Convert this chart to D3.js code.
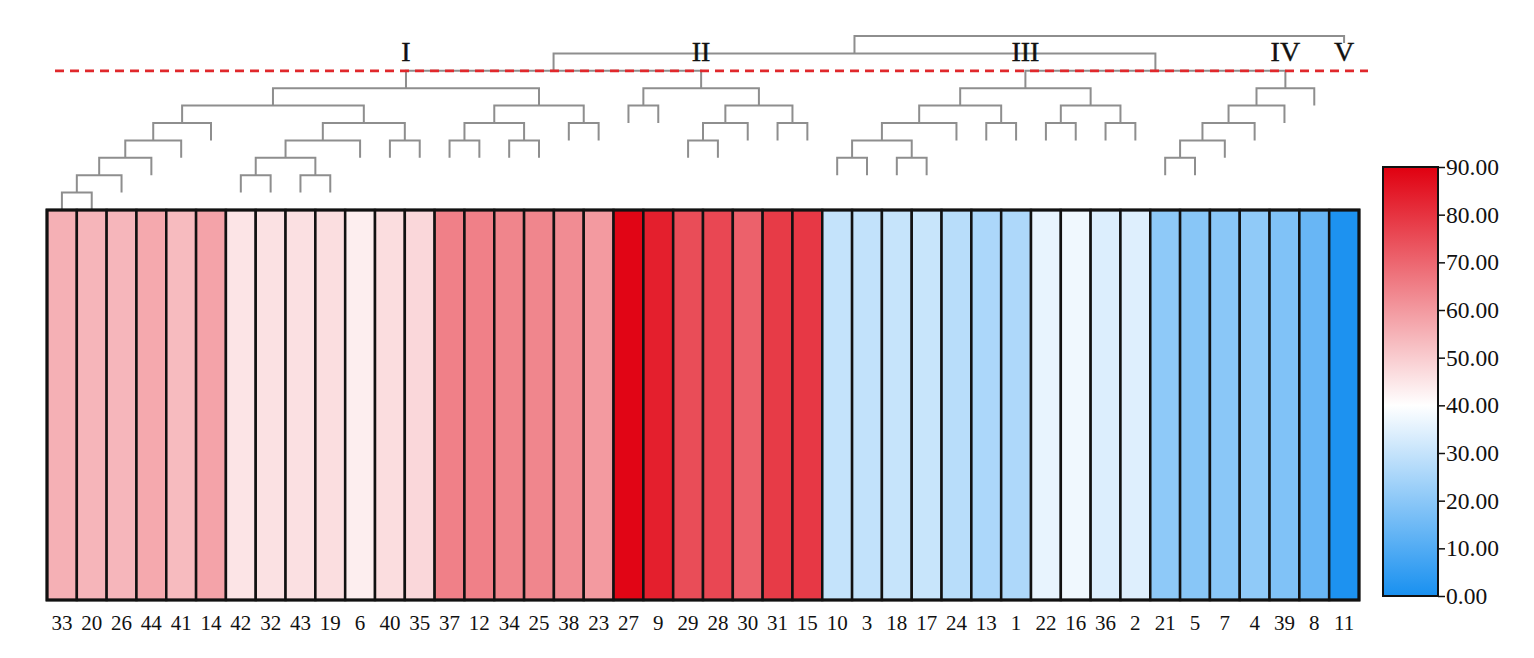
<!DOCTYPE html>
<html>
<head>
  <meta charset="utf-8">
  <script src="https://d3js.org/d3.v7.min.js"></script>
  <style>
    body { margin: 0; background: #fff; }
    text { font-family: "Times New Roman", "Liberation Serif", serif; fill: #111; }
  </style>
</head>
<body>
<script>
  // column order of the heat map (sample numbers)
  var labels = ["33","20","26","44","41","14","42","32","43","19","6","40","35",
                "37","12","34","25","38","23","27","9","29","28","30","31","15",
                "10","3","18","17","24","13","1","22","16","36","2",
                "21","5","7","4","39","8","11"];
  var values = [55.5,54.5,54.3,56.9,53.3,58.0,45.3,45.9,46.0,46.5,43.3,46.7,47.8,
                65.0,65.0,64.0,63.8,62.5,59.8,89.0,84.0,75.0,76.0,71.0,78.5,79.0,
                29.8,29.4,30.1,30.5,27.7,25.6,26.0,36.0,37.4,34.0,34.3,
                20.4,19.4,19.8,20.8,18.0,13.8,0.8];

  // dendrogram: height where each leaf stub stops, and merges [left, right, height]
  // (ids 0-43 are leaves, 44+ are the merges in order)
  var leafEnd = [0,0,1,2,3,4,1,1,1,1,3,3,3,
                 3,3,3,3,4,4,5,5,3,3,4,4,4,
                 2,2,2,2,4,4,4,4,4,4,4,
                 2,2,3,4,5,6,9.6];
  var merges = [
    [0,1,1],[44,2,2],[45,3,3],[46,4,4],[47,5,5],
    [6,7,2],[8,9,2],[49,50,3],[51,10,4],[11,12,4],[52,53,5],[48,54,6],
    [13,14,4],[15,16,4],[56,57,5],[17,18,5],[58,59,6],[55,60,7],
    [19,20,6],[21,22,4],[63,23,5],[24,25,5],[64,65,6],[62,66,7],
    [26,27,3],[28,29,3],[68,69,4],[70,30,5],[31,32,5],[71,72,6],
    [33,34,5],[35,36,5],[74,75,6],[73,76,7],
    [37,38,3],[78,39,4],[79,40,5],[80,41,6],[81,42,7],
    [61,67,8],[77,82,8],[83,84,9],[85,43,10]
  ];
  var clusterNames = ["I","II","III","IV","V"];
  var clusterNodes = [61,67,77,82,43];
  var cutHeight = 8;

  var colorStops = [0, 40, 90];
  var colorRange = ["#1890f0", "#ffffff", "#e00010"];
  var colorTicks = [0,10,20,30,40,50,60,70,80,90];

  var W = 1534, H = 658;
  var svg = d3.select("body").append("svg")
    .attr("width", W).attr("height", H);

  var hmLeft = 47, hmRight = 1359, hmTop = 210, hmBottom = 600;

  var x = d3.scaleBand().domain(labels).range([hmLeft, hmRight]).padding(0);
  var color = d3.scaleLinear().domain(colorStops).range(colorRange);
  var yd = d3.scaleLinear().domain([0, 10]).range([hmTop, 36]);

  // ---- dendrogram ----
  var nodeX = [], nodeH = [];
  labels.forEach(function(l, i) {
    nodeX[i] = x(l) + x.bandwidth() / 2;
    nodeH[i] = leafEnd[i];
  });
  merges.forEach(function(m, j) {
    var id = labels.length + j;
    nodeX[id] = (nodeX[m[0]] + nodeX[m[1]]) / 2;
    nodeH[id] = m[2];
  });

  var dendro = svg.append("g").attr("class", "dendro");
  dendro.selectAll("path")
    .data(merges)
    .enter().append("path")
    .attr("d", function(m) {
      return "M" + nodeX[m[0]] + "," + yd(nodeH[m[0]]) +
             "V" + yd(m[2]) +
             "H" + nodeX[m[1]] +
             "V" + yd(nodeH[m[1]]);
    })
    .style("fill", "none")
    .style("stroke", "#8e8e8e")
    .style("stroke-width", 2);

  // cut line
  svg.append("line")
    .attr("x1", 55).attr("x2", 1368)
    .attr("y1", yd(cutHeight)).attr("y2", yd(cutHeight))
    .style("stroke", "#e0282c")
    .style("stroke-width", 2.8)
    .style("stroke-dasharray", "9,6");

  svg.selectAll(".cluster")
    .data(clusterNames)
    .enter().append("text")
    .attr("class", "cluster")
    .attr("x", function(d, i) { return nodeX[clusterNodes[i]]; })
    .attr("y", 61)
    .attr("text-anchor", "middle")
    .style("font-size", "28px")
    .style("stroke", "#111").style("stroke-width", 0.4)
    .text(function(d) { return d; });

  // ---- heat map ----
  svg.append("g").selectAll("rect")
    .data(values)
    .enter().append("rect")
    .attr("x", function(d, i) { return x(labels[i]); })
    .attr("y", hmTop)
    .attr("width", x.bandwidth())
    .attr("height", hmBottom - hmTop)
    .style("fill", function(d) { return color(d); })
    .style("stroke", "#111")
    .style("stroke-width", 2.5);

  svg.append("rect")
    .attr("x", hmLeft).attr("y", hmTop)
    .attr("width", hmRight - hmLeft).attr("height", hmBottom - hmTop)
    .style("fill", "none").style("stroke", "#111").style("stroke-width", 3);

  svg.append("g").selectAll("text")
    .data(labels)
    .enter().append("text")
    .attr("x", function(d) { return x(d) + x.bandwidth() / 2; })
    .attr("y", 630)
    .attr("text-anchor", "middle")
    .style("font-size", "21px")
    .text(function(d) { return d; });

  // ---- colour bar ----
  var cbLeft = 1383, cbRight = 1438, cbTop = 167, cbBottom = 596;
  var yc = d3.scaleLinear().domain([0, 90]).range([cbBottom, cbTop]);

  var grad = svg.append("defs").append("linearGradient")
    .attr("id", "cbgrad")
    .attr("x1", "0").attr("y1", "1").attr("x2", "0").attr("y2", "0");
  grad.selectAll("stop")
    .data(colorStops)
    .enter().append("stop")
    .attr("offset", function(d) { return (d / 90 * 100) + "%"; })
    .attr("stop-color", function(d, i) { return colorRange[i]; });

  svg.append("rect")
    .attr("x", cbLeft).attr("y", cbTop)
    .attr("width", cbRight - cbLeft).attr("height", cbBottom - cbTop)
    .style("fill", "url(#cbgrad)")
    .style("stroke", "#111").style("stroke-width", 2);

  var cAxis = svg.append("g")
    .attr("transform", "translate(" + cbRight + ",0)")
    .call(d3.axisRight(yc).tickValues(colorTicks)
      .tickFormat(d3.format(".2f")).tickSize(7).tickPadding(1));
  cAxis.select(".domain").remove();
  cAxis.selectAll("line").style("stroke", "#111").style("stroke-width", 1.5);
  cAxis.selectAll("text")
    .style("font-size", "23.5px")
    .style("font-family", "'Times New Roman', 'Liberation Serif', serif")
    .style("fill", "#111");
</script>
</body>
</html>
